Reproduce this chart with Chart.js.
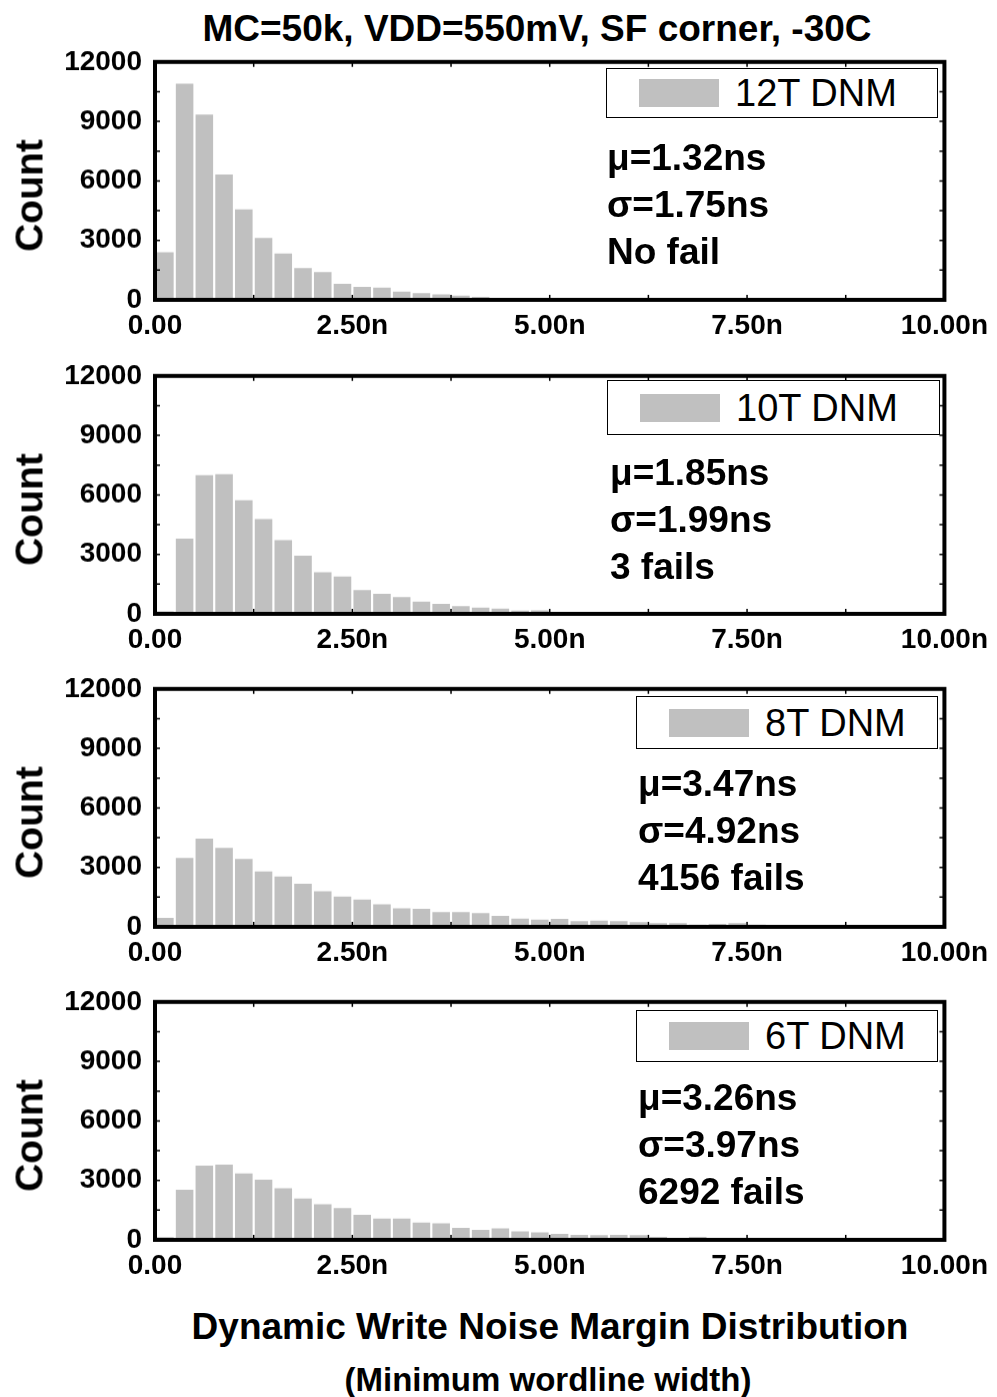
<!DOCTYPE html>
<html>
<head>
<meta charset="utf-8">
<script src="https://cdn.jsdelivr.net/npm/chart.js@4.4.0/dist/chart.umd.min.js"></script>
<style>
  body { margin: 0; background: #fff; font-family: "Liberation Sans", Arial, sans-serif; }
  #page { position: relative; width: 997px; height: 1397px; overflow: hidden; }
  .panel { position: absolute; left: 0; }
  .txt { position: absolute; color: #000; font-weight: bold; white-space: nowrap; }
  .center { width: 1000px; text-align: center; }
  .legend { position: absolute; border: 1.5px solid #000; background: #fff; box-sizing: border-box; }
  .legend .sw { position: absolute; width: 80px; height: 28px; background: #c0c0c0; }
  .legend .lab { position: absolute; font-size: 38px; line-height: 38px; font-weight: normal; }
  .stats { position: absolute; font-size: 37px; line-height: 47px; font-weight: bold; }
  .ytitle { font-size: 39px; line-height: 39px; width: 200px; text-align: center; transform: rotate(-90deg); }
</style>
</head>
<body>
<div id="page">
  <div class="txt center" style="left:37px;top:8px;font-size:37px;">MC=50k, VDD=550mV, SF corner, -30C</div>
  <div class="txt center" style="left:50px;top:1306px;font-size:37px;">Dynamic Write Noise Margin Distribution</div>
  <div class="txt center" style="left:48px;top:1361px;font-size:33px;">(Minimum wordline width)</div>
</div>
<script>
// histogram bins: 0.25n wide, from 0 to 10n
const binWidth = 0.25;
const xTicks = [0, 2.5, 5, 7.5, 10];
const yTicks = [0, 3000, 6000, 9000, 12000];

// counts per bin
const counts12T = [2400, 10900, 9350, 6320, 4560, 3120, 2340, 1610, 1400, 810, 660, 620, 420, 340, 280, 210, 150, 100, 90];
const counts10T = [130, 3790, 7000, 7050, 5730, 4780, 3720, 2940, 2100, 1890, 1200, 1015, 845, 625, 507, 390, 320, 270, 170, 180, 80, 35, 35];
const counts8T = [455, 3480, 4450, 3980, 3430, 2800, 2540, 2170, 1800, 1530, 1380, 1140, 940, 910, 740, 740, 690, 555, 420, 370, 400, 285, 320, 285, 235, 185, 185, 117, 150, 185, 117, 84, 100, 100, 67, 67, 100];
const counts6T = [135, 2530, 3740, 3790, 3350, 3030, 2600, 2090, 1800, 1600, 1265, 1080, 1080, 875, 830, 610, 500, 585, 435, 385, 300, 250, 235, 250, 235, 150, 84, 150, 67, 84, 0, 34, 34];

const legendLabels = ['12T DNM', '10T DNM', '8T DNM', '6T DNM'];
const statsMu = ['\u03bc=1.32ns', '\u03bc=1.85ns', '\u03bc=3.47ns', '\u03bc=3.26ns'];
const statsSigma = ['\u03c3=1.75ns', '\u03c3=1.99ns', '\u03c3=4.92ns', '\u03c3=3.97ns'];
const statsFails = ['No fail', '3 fails', '4156 fails', '6292 fails'];

const allCounts = [counts12T, counts10T, counts8T, counts6T];

// layout of each panel (page pixels)
const plotTops = [62, 376, 689, 1002];
const legendBoxes = [[606, 68, 332, 50], [607, 380, 333, 55], [636, 696, 302, 53], [636, 1010, 302, 52]];
const statsPos = [[607, 134], [610, 449], [638, 760], [638, 1074]];

const padTop = 22;
const plotH = 238;
const xAxisH = 44;

// frame around the plot area with small inward ticks
const framePlugin = {
  id: 'frame',
  afterDatasetsDraw(chart) {
    const { ctx, chartArea: a, scales } = chart;
    ctx.save();
    ctx.strokeStyle = '#000';
    ctx.lineWidth = 1.5;
    ctx.beginPath();
    for (let v = 1.25; v < 10; v += 1.25) {
      const px = scales.x.getPixelForValue(v);
      ctx.moveTo(px, a.top); ctx.lineTo(px, a.top + 5);
      ctx.moveTo(px, a.bottom); ctx.lineTo(px, a.bottom - 5);
    }
    for (let v = 1500; v < 12000; v += 1500) {
      const py = scales.y.getPixelForValue(v);
      ctx.moveTo(a.left, py); ctx.lineTo(a.left + 5, py);
      ctx.moveTo(a.right, py); ctx.lineTo(a.right - 5, py);
    }
    ctx.stroke();
    ctx.lineWidth = 4;
    ctx.strokeRect(a.left, a.top, a.right - a.left, a.bottom - a.top);
    ctx.restore();
  }
};

const page = document.getElementById('page');
const tickFont = { family: '"Liberation Sans", Arial, sans-serif', size: 28, weight: 'bold' };

function makeChart(canvas, counts, p) {
  return new Chart(canvas, {
    type: 'bar',
    data: {
      datasets: [{
        label: legendLabels[p],
        data: counts.map((c, i) => ({ x: binWidth * (i + 0.5), y: c })),
        backgroundColor: '#c0c0c0',
        borderWidth: 0,
        barPercentage: 1,
        categoryPercentage: 0.89
      }]
    },
    options: {
      responsive: false,
      maintainAspectRatio: false,
      animation: false,
      layout: { padding: { top: padTop, right: 52, left: 0, bottom: 0 } },
      plugins: { legend: { display: false }, tooltip: { enabled: false } },
      scales: {
        x: {
          type: 'linear', min: 0, max: 10, offset: false,
          afterBuildTicks: s => { s.ticks = xTicks.map(v => ({ value: v })); },
          afterFit: s => { s.height = xAxisH; },
          grid: { display: false, drawTicks: false }, border: { display: false },
          ticks: {
            color: '#000', font: tickFont, padding: 9, maxRotation: 0, autoSkip: false,
            callback: v => v === 0 ? '0.00' : v.toFixed(2) + 'n'
          }
        },
        y: {
          min: 0, max: 12000,
          afterBuildTicks: s => { s.ticks = yTicks.map(v => ({ value: v })); },
          afterFit: s => { s.width = 155; },
          grid: { display: false, drawTicks: false }, border: { display: false },
          ticks: { color: '#000', font: tickFont, padding: 13, callback: v => String(v) }
        }
      }
    },
    plugins: [framePlugin]
  });
}

allCounts.forEach((counts, p) => {
  const canvas = document.createElement('canvas');
  canvas.className = 'panel';
  let h = padTop + plotH + xAxisH;
  canvas.width = 997;
  canvas.height = h;
  page.appendChild(canvas);

  let chart = makeChart(canvas, counts, p);
  // make the plot area exactly plotH tall
  const extra = plotH - (chart.chartArea.bottom - chart.chartArea.top);
  if (Math.abs(extra) > 0.5) {
    chart.destroy();
    h += extra;
    canvas.width = 997;
    canvas.height = h;
    canvas.style.width = '997px';
    canvas.style.height = h + 'px';
    chart = makeChart(canvas, counts, p);
  }
  canvas.style.top = (plotTops[p] - chart.chartArea.top) + 'px';

  // y axis title
  const yt = document.createElement('div');
  yt.className = 'txt ytitle';
  yt.style.left = (29 - 100) + 'px';
  yt.style.top = (plotTops[p] + plotH / 2 + 14 - 19) + 'px';
  yt.textContent = 'Count';
  page.appendChild(yt);

  // legend box
  const [lx, ly, lw, lh] = legendBoxes[p];
  const lg = document.createElement('div');
  lg.className = 'legend';
  lg.style.cssText = `left:${lx}px;top:${ly}px;width:${lw}px;height:${lh}px;`;
  const sw = document.createElement('div');
  sw.className = 'sw';
  sw.style.left = '32px';
  sw.style.top = ((lh - 28) / 2 - 1) + 'px';
  const lab = document.createElement('div');
  lab.className = 'lab txt';
  lab.style.left = '128px';
  lab.style.top = ((lh - 38) / 2 - 1) + 'px';
  lab.textContent = legendLabels[p];
  lg.appendChild(sw);
  lg.appendChild(lab);
  page.appendChild(lg);

  // statistics text
  const st = document.createElement('div');
  st.className = 'stats txt';
  st.style.left = statsPos[p][0] + 'px';
  st.style.top = statsPos[p][1] + 'px';
  st.innerHTML = [statsMu[p], statsSigma[p], statsFails[p]].join('<br>');
  page.appendChild(st);
});
</script>
</body>
</html>
